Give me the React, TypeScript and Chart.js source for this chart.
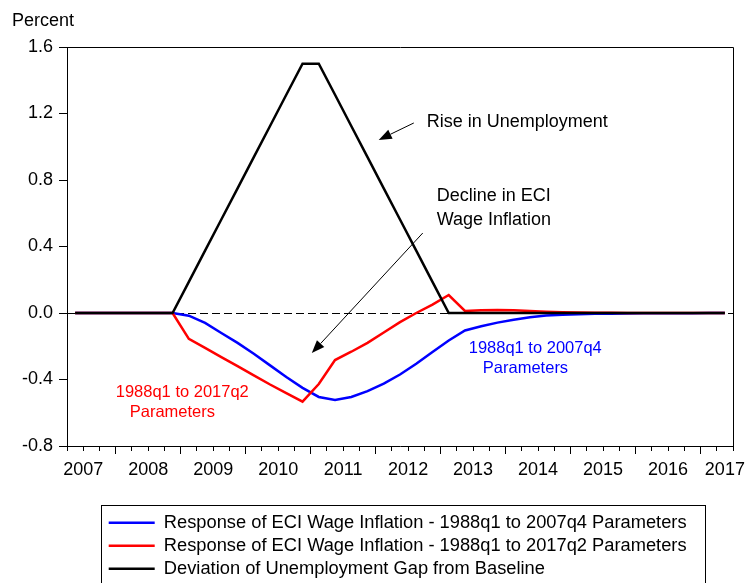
import React, { useEffect, useRef } from "react";
import { Chart, registerables } from "chart.js";

Chart.register(...registerables);

// Quarterly observations (plotted at the centre of each quarter)
const QUARTERS = [
  "2007Q2", "2007Q3", "2007Q4",
  "2008Q1", "2008Q2", "2008Q3", "2008Q4",
  "2009Q1", "2009Q2", "2009Q3", "2009Q4",
  "2010Q1", "2010Q2", "2010Q3", "2010Q4",
  "2011Q1", "2011Q2", "2011Q3", "2011Q4",
  "2012Q1", "2012Q2", "2012Q3", "2012Q4",
  "2013Q1", "2013Q2", "2013Q3", "2013Q4",
  "2014Q1", "2014Q2", "2014Q3", "2014Q4",
  "2015Q1", "2015Q2", "2015Q3", "2015Q4",
  "2016Q1", "2016Q2", "2016Q3", "2016Q4",
  "2017Q1", "2017Q2",
];

const YEAR_LABELS = ["2007", "2008", "2009", "2010", "2011", "2012", "2013", "2014", "2015", "2016", "2017"];
const Y_TICKS = [-0.8, -0.4, 0.0, 0.4, 0.8, 1.2, 1.6];

const SERIES_LABELS = [
  "Response of ECI Wage Inflation - 1988q1 to 2007q4 Parameters",
  "Response of ECI Wage Inflation - 1988q1 to 2017q2 Parameters",
  "Deviation of Unemployment Gap from Baseline",
];

const RESPONSE_2007Q4 = [
  0, 0, 0, 0, 0, 0, 0,
  -0.016, -0.06, -0.12, -0.18, -0.245, -0.315, -0.385, -0.45, -0.505, -0.523,
  -0.505, -0.47, -0.425, -0.37, -0.305, -0.235, -0.165, -0.105,
  -0.08, -0.058, -0.04, -0.025, -0.015, -0.01, -0.007, -0.005, -0.004, -0.003,
  -0.002, -0.002, -0.001, -0.001, 0, 0,
];

const RESPONSE_2017Q2 = [
  0, 0, 0, 0, 0, 0, 0,
  -0.156, -0.21, -0.265, -0.32, -0.375, -0.43, -0.482, -0.533,
  -0.427, -0.283, -0.233, -0.18, -0.117, -0.055, 0.0, 0.05, 0.108,
  0.012, 0.016, 0.018, 0.016, 0.012, 0.008, 0.005, 0.003, 0.002, 0.001,
  0, 0, 0, 0, 0, 0, 0,
];

const UNEMPLOYMENT_GAP = [
  0, 0, 0, 0, 0, 0, 0,
  0.1875, 0.375, 0.5625, 0.75, 0.9375, 1.125, 1.3125,
  1.5, 1.5,
  1.3125, 1.125, 0.9375, 0.75, 0.5625, 0.375, 0.1875,
  0,
  0, 0, 0, 0, 0, 0, 0, 0, 0, 0, 0, 0, 0, 0, 0, 0, 0,
];

// Annotation placement in data units (x = quarter index, y = percent)
const ANNOTATIONS = [
  { text: "Rise in Unemployment", x: 22.15, y: 1.149, color: "#000000", size: 18 },
  { text: "Decline in ECI", x: 22.76, y: 0.705, color: "#000000", size: 18 },
  { text: "Wage Inflation", x: 22.76, y: 0.562, color: "#000000", size: 18 },
  { text: "1988q1 to 2017q2", x: 3.0, y: -0.479, color: "#ff0000", size: 16.5 },
  { text: "Parameters", x: 3.86, y: -0.601, color: "#ff0000", size: 16.5 },
  { text: "1988q1 to 2007q4", x: 24.73, y: -0.2105, color: "#0000ff", size: 16.5 },
  { text: "Parameters", x: 25.6, y: -0.333, color: "#0000ff", size: 16.5 },
];

const ARROWS = [
  { from: [21.35, 1.143], to: [19.19, 1.041] },
  { from: [21.9, 0.481], to: [15.07, -0.241] },
];

const FONT = "'Liberation Sans', Arial, sans-serif";
const N = QUARTERS.length;

function yearLabelAt(value: number): string {
  for (let k = 0; k < YEAR_LABELS.length; k++) {
    const pos = Math.min(4 * k + 1, N - 0.5);
    if (Math.abs(pos - value) < 1e-9) return YEAR_LABELS[k];
  }
  return "";
}

const toPoints = (arr: number[]) => arr.map((v, i) => ({ x: i + 0.5, y: v }));

const framePlugin = {
  id: "frame",
  beforeDatasetsDraw(chart: any) {
    const { ctx, chartArea } = chart;
    ctx.save();
    ctx.strokeStyle = "#000";
    ctx.lineWidth = 1;
    const l = Math.round(chartArea.left) + 0.5;
    const t = Math.round(chartArea.top) + 0.5;
    const r = Math.round(chartArea.right) + 0.5;
    const b = Math.round(chartArea.bottom) + 0.5;
    ctx.beginPath();
    ctx.moveTo(l, t);
    ctx.lineTo(r, t);
    ctx.lineTo(r, b);
    ctx.stroke();
    ctx.restore();
  },
};

const legendPlacePlugin = {
  id: "legendPlace",
  afterLayout(chart: any) {
    const lg = chart.legend;
    if (lg) lg.left = chart.chartArea.left + 37;
  },
  afterDraw(chart: any) {
    const lg = chart.legend;
    if (!lg || !lg.legendHitBoxes || !lg.legendHitBoxes.length) return;
    const boxes = lg.legendHitBoxes;
    const left = Math.min(...boxes.map((b: any) => b.left)) - 8;
    const right = Math.max(...boxes.map((b: any) => b.left + b.width)) + 18;
    const top = boxes[0].top - 9;
    const { ctx } = chart;
    ctx.save();
    ctx.strokeStyle = "#000";
    ctx.lineWidth = 1;
    ctx.strokeRect(Math.round(left) + 0.5, Math.round(top) + 0.5, Math.round(right - left), chart.height - top + 10);
    ctx.restore();
  },
};

const annotationPlugin = {
  id: "annotations",
  afterDatasetsDraw(chart: any) {
    const { ctx } = chart;
    const xs = chart.scales.x;
    const ys = chart.scales.y;
    ctx.save();
    ctx.strokeStyle = "#000";
    ctx.fillStyle = "#000";
    ctx.lineWidth = 1;
    for (const a of ARROWS) {
      const x1 = xs.getPixelForValue(a.from[0]);
      const y1 = ys.getPixelForValue(a.from[1]);
      const x2 = xs.getPixelForValue(a.to[0]);
      const y2 = ys.getPixelForValue(a.to[1]);
      const ang = Math.atan2(y2 - y1, x2 - x1);
      const len = 13;
      const half = 5;
      const c = Math.cos(ang);
      const s = Math.sin(ang);
      const bx = x2 - len * c;
      const by = y2 - len * s;
      ctx.beginPath();
      ctx.moveTo(x1, y1);
      ctx.lineTo(bx, by);
      ctx.stroke();
      ctx.beginPath();
      ctx.moveTo(x2, y2);
      ctx.lineTo(bx + half * s, by - half * c);
      ctx.lineTo(bx - half * s, by + half * c);
      ctx.closePath();
      ctx.fill();
    }
    ctx.textAlign = "left";
    ctx.textBaseline = "middle";
    for (const t of ANNOTATIONS) {
      ctx.font = `${t.size}px ${FONT}`;
      ctx.fillStyle = t.color;
      ctx.fillText(t.text, xs.getPixelForValue(t.x), ys.getPixelForValue(t.y));
    }
    ctx.restore();
  },
};

export default function App() {
  const ref = useRef<HTMLCanvasElement | null>(null);

  useEffect(() => {
    if (!ref.current) return;
    Chart.defaults.font.family = FONT;
    Chart.defaults.color = "#000";

    const chart = new Chart(ref.current, {
      type: "line",
      data: {
        datasets: [
          {
            label: SERIES_LABELS[0],
            data: toPoints(RESPONSE_2007Q4),
            borderColor: "#0000ff",
            backgroundColor: "#0000ff",
            borderWidth: 2.5,
            pointRadius: 0,
            tension: 0,
            order: 2,
          },
          {
            label: SERIES_LABELS[1],
            data: toPoints(RESPONSE_2017Q2),
            borderColor: "#ff0000",
            backgroundColor: "#ff0000",
            borderWidth: 2.5,
            pointRadius: 0,
            tension: 0,
            order: 1,
          },
          {
            label: SERIES_LABELS[2],
            data: toPoints(UNEMPLOYMENT_GAP),
            borderColor: "#000000",
            backgroundColor: "#000000",
            borderWidth: 2.5,
            pointRadius: 0,
            tension: 0,
            order: 0,
          },
        ],
      },
      options: {
        animation: false,
        responsive: false,
        events: [],
        layout: { padding: { left: 12, right: 17, top: 0, bottom: 0 } },
        scales: {
          x: {
            type: "linear",
            min: 0,
            max: N,
            afterBuildTicks: (scale: any) => {
              const t: any[] = [];
              for (let v = 0; v <= N; v++) {
                t.push({ value: v });
                if (v === N - 1) t.push({ value: N - 0.5 });
              }
              scale.ticks = t;
            },
            afterFit: (scale: any) => {
              scale.height = 63;
              scale.paddingLeft = 0;
              scale.paddingRight = 0;
            },
            ticks: {
              autoSkip: false,
              maxRotation: 0,
              minRotation: 0,
              padding: 5,
              font: { size: 18 },
              color: "#000",
              callback: (value: any) => yearLabelAt(Number(value)),
            },
            grid: {
              drawOnChartArea: false,
              drawTicks: true,
              tickLength: 8,
              tickWidth: 1,
              tickColor: (ctx: any) =>
                ctx.tick && Number.isInteger(ctx.tick.value) ? "#000" : "rgba(0,0,0,0)",
              tickBorderDash: (ctx: any) =>
                ctx.tick && ctx.tick.value % 4 === 3 ? [] : [4, 40],
            },
            border: { display: true, color: "#000", width: 1 },
          },
          y: {
            min: -0.8,
            max: 1.6,
            afterBuildTicks: (scale: any) => {
              scale.ticks = Y_TICKS.map((v) => ({ value: v }));
            },
            afterFit: (scale: any) => {
              scale.width = 55;
            },
            ticks: {
              padding: 6,
              font: { size: 18 },
              color: "#000",
              callback: (value: any) => Number(value).toFixed(1),
            },
            grid: {
              drawOnChartArea: true,
              drawTicks: true,
              tickLength: 8,
              tickColor: "#000",
              lineWidth: 1,
              color: (ctx: any) =>
                ctx.tick && Math.abs(ctx.tick.value) < 1e-9 ? "#000" : "rgba(0,0,0,0)",
            },
            border: { display: true, color: "#000", width: 1, dash: [8, 4] },
          },
        },
        plugins: {
          title: {
            display: true,
            text: "Percent",
            align: "start",
            color: "#000",
            font: { size: 18, weight: "normal" },
            padding: { top: 10, bottom: 15.4 },
          },
          legend: {
            display: true,
            position: "bottom",
            align: "start",
            fullSize: false,
            maxHeight: 74,
            labels: {
              usePointStyle: true,
              pointStyle: "line",
              pointStyleWidth: 46,
              padding: 4.7,
              color: "#000",
              font: { size: 18.3 },
              sort: (a: any, b: any) => a.datasetIndex - b.datasetIndex,
            },
          },
          tooltip: { enabled: false },
        },
      } as any,
      plugins: [framePlugin, legendPlacePlugin, annotationPlugin],
    });

    return () => chart.destroy();
  }, []);

  return (
    <div style={{ position: "absolute", left: 0, top: 0, width: 750, height: 583 }}>
      <canvas ref={ref} width={750} height={583} />
    </div>
  );
}
